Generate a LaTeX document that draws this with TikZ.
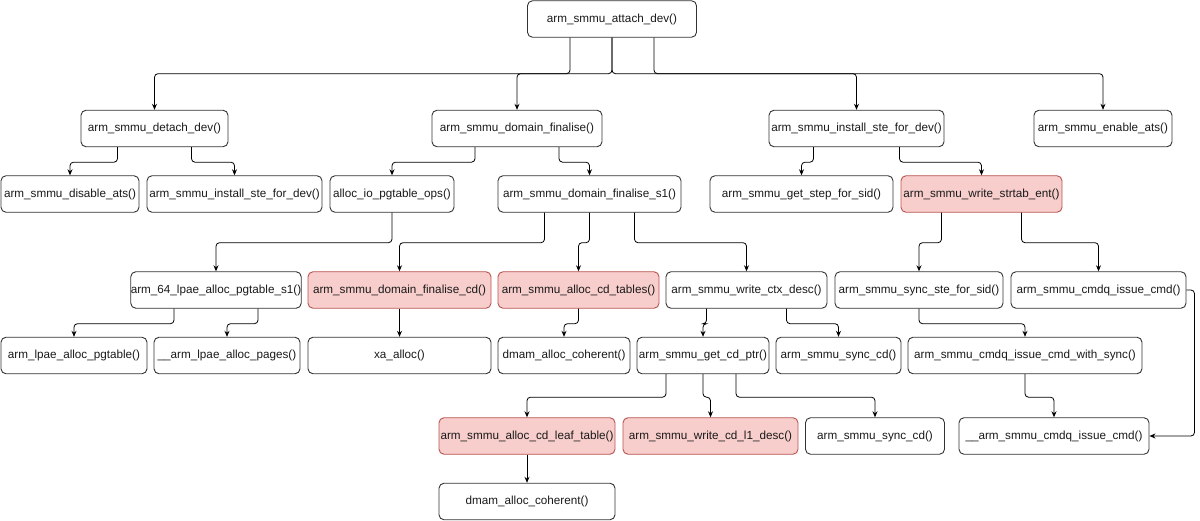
\documentclass[tikz,border=0pt]{standalone}
\usepackage{fontspec}
\setmainfont{Liberation Sans}
\usepackage{tikz}
\usetikzlibrary{arrows.meta}
\definecolor{redfill}{HTML}{F8CECC}
\definecolor{redline}{HTML}{B85450}
\definecolor{boxline}{HTML}{333333}

\begin{document}
\begin{tikzpicture}[x=1pt,y=-1pt,
	fn/.style={draw=boxline, line width=0.9pt, rounded corners=5pt, inner sep=0pt,
		minimum height=36.5, font=\fontsize{11.7}{13}\selectfont, text=black!90},
	hot/.style={fn, fill=redfill, draw=redline},
	link/.style={line width=0.8pt, rounded corners=3.5pt, -{Stealth[length=6pt,width=5pt]}}]
	\useasboundingbox (0,0) rectangle (1200,521);
	%%%%%%%%%% nivel 1 %%%%%%%%%%
	\node[fn, minimum width=169] (attach) at (612,19) {arm\_smmu\_attach\_dev()};
	
	%%%%%%%%%% nivel 2 %%%%%%%%%%
	\node[fn, minimum width=147] (detach) at (154.5,128.5) {arm\_smmu\_detach\_dev()};
	\node[fn, minimum width=170] (dfin) at (517,128.5) {arm\_smmu\_domain\_finalise()};
	\node[fn, minimum width=175] (inst) at (856.5,128.5) {arm\_smmu\_install\_ste\_for\_dev()};
	\node[fn, minimum width=138] (enats) at (1103,128.5) {arm\_smmu\_enable\_ats()};
	
	%%%%%%%%%% nivel 3 %%%%%%%%%%
	\node[fn, minimum width=138] (disats) at (70,194) {arm\_smmu\_disable\_ats()};
	\node[fn, minimum width=175] (inst2) at (234.5,194) {arm\_smmu\_install\_ste\_for\_dev()};
	\node[fn, minimum width=124] (aiopo) at (392,194) {alloc\_io\_pgtable\_ops()};
	\node[fn, minimum width=183] (dfs1) at (589.5,194) {arm\_smmu\_domain\_finalise\_s1()};
	\node[fn, minimum width=183] (getste) at (801.5,194) {arm\_smmu\_get\_step\_for\_sid()};
	\node[hot, minimum width=161] (wstrtab) at (981.5,194) {arm\_smmu\_write\_strtab\_ent()};
	
	%%%%%%%%%% nivel 4 %%%%%%%%%%
	\node[fn, minimum width=168] (lpaes1) at (216,290) {arm\_64\_lpae\_alloc\_pgtable\_s1()};
	\node[hot, minimum width=183] (dfcd) at (399.5,290) {arm\_smmu\_domain\_finalise\_cd()};
	\node[hot, minimum width=161] (acdt) at (578.5,290) {arm\_smmu\_alloc\_cd\_tables()};
	\node[fn, minimum width=161] (wctx) at (746.5,290) {arm\_smmu\_write\_ctx\_desc()};
	\node[fn, minimum width=168] (syncste) at (919,290) {arm\_smmu\_sync\_ste\_for\_sid()};
	\node[fn, minimum width=175] (cmdq) at (1098.5,290) {arm\_smmu\_cmdq\_issue\_cmd()};
	
	%%%%%%%%%% nivel 5 %%%%%%%%%%
	\node[fn, minimum width=146] (lpaepg) at (74,355.5) {arm\_lpae\_alloc\_pgtable()};
	\node[fn, minimum width=146] (lpaepages) at (227,355.5) {\_\_arm\_lpae\_alloc\_pages()};
	\node[fn, minimum width=183] (xa) at (399.5,355.5) {xa\_alloc()};
	\node[fn, minimum width=132] (dmam1) at (564,355.5) {dmam\_alloc\_coherent()};
	\node[fn, minimum width=132] (getcd) at (703,355.5) {arm\_smmu\_get\_cd\_ptr()};
	\node[fn, minimum width=125] (synccd1) at (838.5,355.5) {arm\_smmu\_sync\_cd()};
	\node[fn, minimum width=234] (withsync) at (1025,355.5) {arm\_smmu\_cmdq\_issue\_cmd\_with\_sync()};
	
	%%%%%%%%%% nivel 6 e 7 %%%%%%%%%%
	\node[hot, minimum width=176] (leaf) at (527,436) {arm\_smmu\_alloc\_cd\_leaf\_table()};
	\node[hot, minimum width=175] (l1) at (710.5,436) {arm\_smmu\_write\_cd\_l1\_desc()};
	\node[fn, minimum width=139] (synccd2) at (875,436) {arm\_smmu\_sync\_cd()};
	\node[fn, minimum width=190] (ucmdq) at (1054,436) {\_\_arm\_smmu\_cmdq\_issue\_cmd()};
	\node[fn, minimum width=176] (dmam2) at (527,501.5) {dmam\_alloc\_coherent()};
	
	%%%%%%%%%% setas %%%%%%%%%%
	\draw[link] ([xshift=-42]attach.south) -- ++(0,36) -| (detach);
	\draw[link] (attach.south) -- ++(0,36) -| (dfin);
	\draw[link] (attach.south) -- ++(0,36) -| (inst);
	\draw[link] ([xshift=42]attach.south) -- ++(0,36) -| (enats);
	
	\draw[link] ([xshift=-37]detach.south) -- ++(0,15) -| (disats);
	\draw[link] ([xshift=37]detach.south) -- ++(0,15) -| (inst2);
	\draw[link] ([xshift=-42]dfin.south) -- ++(0,15) -| (aiopo);
	\draw[link] ([xshift=42]dfin.south) -- ++(0,15) -| (dfs1);
	\draw[link] ([xshift=-43]inst.south) -- ++(0,15) -| (getste);
	\draw[link] ([xshift=43]inst.south) -- ++(0,15) -| (wstrtab);
	
	\draw[link] (aiopo.south) -- ++(0,30) -| (lpaes1);
	\draw[link] ([xshift=-45]dfs1.south) -- ++(0,30) -| (dfcd);
	\draw[link] (dfs1.south) -- ++(0,30) -| (acdt);
	\draw[link] ([xshift=45]dfs1.south) -- ++(0,30) -| (wctx);
	\draw[link] ([xshift=-40]wstrtab.south) -- ++(0,30) -| (syncste);
	\draw[link] ([xshift=40]wstrtab.south) -- ++(0,30) -| (cmdq);
	
	\draw[link] ([xshift=-42]lpaes1.south) -- ++(0,15) -| (lpaepg);
	\draw[link] ([xshift=42]lpaes1.south) -- ++(0,15) -| (lpaepages);
	\draw[link] (dfcd) -- (xa);
	\draw[link] (acdt.south) -- ++(0,15) -| (dmam1);
	\draw[link] ([xshift=-40]wctx.south) -- ++(0,15) -| (getcd);
	\draw[link] ([xshift=40]wctx.south) -- ++(0,15) -| (synccd1);
	\draw[link] (syncste.south) -- ++(0,15) -| (withsync);
	
	\draw[link] ([xshift=-37]getcd.south) -- ++(0,23) -| (leaf);
	\draw[link] (getcd.south) -- ++(0,23) -| (l1);
	\draw[link] ([xshift=33]getcd.south) -- ++(0,23) -| (synccd2);
	\draw[link] (withsync.south) -- ++(0,23) -| (ucmdq);
	\draw[link] (leaf) -- (dmam2);
	\draw[link] (cmdq.east) -- ++(8,0) |- (ucmdq.east);
\end{tikzpicture}
\end{document}
